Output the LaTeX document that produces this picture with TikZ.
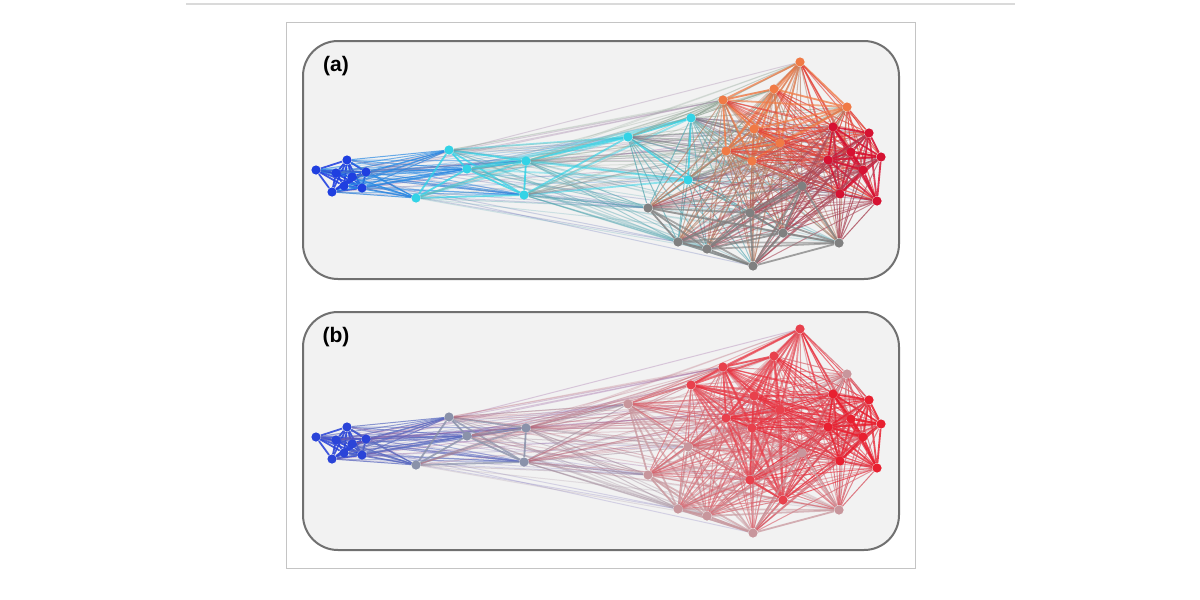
\documentclass[tikz,border=0pt]{standalone}
\usepackage{fontspec}
\setmainfont{Liberation Sans}
\definecolor{cB}{HTML}{1F3FE0}
\definecolor{cC}{HTML}{33D3E6}
\definecolor{cO}{HTML}{F07A45}
\definecolor{cR}{HTML}{D61232}
\definecolor{cG}{HTML}{808080}
\definecolor{bB}{HTML}{2A44D8}
\definecolor{bN}{HTML}{8A92AA}
\definecolor{bP}{HTML}{C8969C}
\definecolor{bR}{HTML}{E8404C}
\definecolor{bD}{HTML}{E82030}
\definecolor{panelgray}{HTML}{707070}
\definecolor{panelfill}{HTML}{F2F2F2}
\definecolor{framegray}{HTML}{C4C4C4}
\definecolor{rulegray}{HTML}{DADADA}
\pgfdeclarelayer{panel}
\pgfdeclarelayer{edges}
\pgfsetlayers{panel,edges,main}
\tikzset{
  dot/.style={circle, fill=#1, draw=none, inner sep=0pt, minimum size=4.6pt},
  panelbox/.style={draw=panelgray, line width=1pt, fill=panelfill, rounded corners=17.5pt},
  lbl/.style={font=\bfseries\fontsize{10.5}{12}\selectfont, inner sep=0pt},
}
\def\netA{316/170/L1/cB,
347/160/L2/cB,
366/172/L3/cB,
362/188/L4/cB,
332/192/L5/cB,
336/173/L6/cB,
352/177/L7/cB,
344/186/L8/cB,
416/198/c1/cC,
449/150/c2/cC,
467/169/c3/cC,
526/161/c4/cC,
524/195/c5/cC,
628/137/c6/cC,
691/118/c7/cC,
688/180/c8/cC,
800/62/o1/cO,
774/89/o2/cO,
723/100/o3/cO,
847/107/o4/cO,
754/129/o5/cO,
780/143/o6/cO,
726/151/o7/cO,
752/161/o8/cO,
833/127/r1/cR,
869/133/r2/cR,
851/152/r3/cR,
881/157/r4/cR,
828/160/r5/cR,
863/170/r6/cR,
840/194/r7/cR,
877/201/r8/cR,
648/208/g1/cG,
802/186/g2/cG,
750/213/g3/cG,
783/233/g4/cG,
678/242/g5/cG,
707/249/g6/cG,
839/243/g7/cG,
753/266/g8/cG}
\def\netB{316/170/L1/bB,
347/160/L2/bB,
366/172/L3/bB,
362/188/L4/bB,
332/192/L5/bB,
336/173/L6/bB,
352/177/L7/bB,
344/186/L8/bB,
416/198/c1/bN,
449/150/c2/bN,
467/169/c3/bN,
526/161/c4/bN,
524/195/c5/bN,
628/137/c6/bP,
691/118/c7/bR,
688/180/c8/bP,
800/62/o1/bR,
774/89/o2/bR,
723/100/o3/bR,
847/107/o4/bP,
754/129/o5/bR,
780/143/o6/bR,
726/151/o7/bR,
752/161/o8/bR,
833/127/r1/bD,
869/133/r2/bD,
851/152/r3/bD,
881/157/r4/bD,
828/160/r5/bD,
863/170/r6/bD,
840/194/r7/bD,
877/201/r8/bD,
648/208/g1/bP,
802/186/g2/bP,
750/213/g3/bR,
783/233/g4/bR,
678/242/g5/bP,
707/249/g6/bP,
839/243/g7/bP,
753/266/g8/bP}
\begin{document}
\begin{tikzpicture}[x=0.5pt, y=-0.5pt]
\useasboundingbox (0,0) rectangle (1200,600);
\begin{pgfonlayer}{panel}
  \fill[white] (0,0) rectangle (1200,600);
  \draw[rulegray, line width=1pt] (186,3.5) -- (1015,3.5);
  \draw[framegray, line width=0.5pt] (286,22.5) rectangle (915.5,568);
  \draw[panelbox] (303,41) rectangle (899,279);
  \draw[panelbox] (303,312) rectangle (899,550);
\end{pgfonlayer}
\node[lbl] (labA) at (336,66) {(a)};
\node[lbl] (labB) at (336,337) {(b)};
% nodes
\foreach \x/\y/\n/\c in \netA { \node[dot=\c] (a\n) at (\x,\y) {}; }
\foreach \x/\y/\n/\c in \netB { \node[dot=\c] (b\n) at (\x,\y+267) {}; }
% edges
\begin{pgfonlayer}{edges}
\foreach [count=\i] \xa/\ya/\na/\ca in \netA {
  \foreach [count=\j] \xb/\yb/\nb/\cb in \netA {
    \ifnum\j>\i
      \pgfmathsetmacro\dd{10*veclen((\xb-\xa)/10,(\yb-\ya)/10)}
      \pgfmathtruncatemacro\hh{mod(mod(\i*\i,97)*7+mod(\j*\j,89)*3+mod(\i*\j,83)*11,100)}
      \pgfmathtruncatemacro\ok{(\dd<240) || ((\dd<340) && (\hh<65)) || ((\dd<480) && (\hh<9))}
      \ifnum\ok=1
        \pgfmathsetmacro\op{max(0.25,0.95-\dd/400)}
        \ifx\ca\cb \def\lw{0.9pt}\else\def\lw{0.5pt}\fi
        \draw[line width=\lw, draw=\ca!50!\cb, opacity=\op] (a\na) -- (a\nb);
      \fi
    \fi
  }
}
\foreach [count=\i] \xa/\ya/\na/\ca in \netB {
  \foreach [count=\j] \xb/\yb/\nb/\cb in \netB {
    \ifnum\j>\i
      \pgfmathsetmacro\dd{10*veclen((\xb-\xa)/10,(\yb-\ya)/10)}
      \pgfmathtruncatemacro\hh{mod(mod(\i*\i,97)*7+mod(\j*\j,89)*3+mod(\i*\j,83)*11,100)}
      \pgfmathtruncatemacro\ok{(\dd<240) || ((\dd<340) && (\hh<65)) || ((\dd<480) && (\hh<9))}
      \ifnum\ok=1
        \pgfmathsetmacro\op{max(0.25,0.95-\dd/400)}
        \ifx\ca\cb \def\lw{0.9pt}\else\def\lw{0.5pt}\fi
        \draw[line width=\lw, draw=\ca!50!\cb, opacity=\op] (b\na) -- (b\nb);
      \fi
    \fi
  }
}
\end{pgfonlayer}
\end{tikzpicture}
\end{document}
